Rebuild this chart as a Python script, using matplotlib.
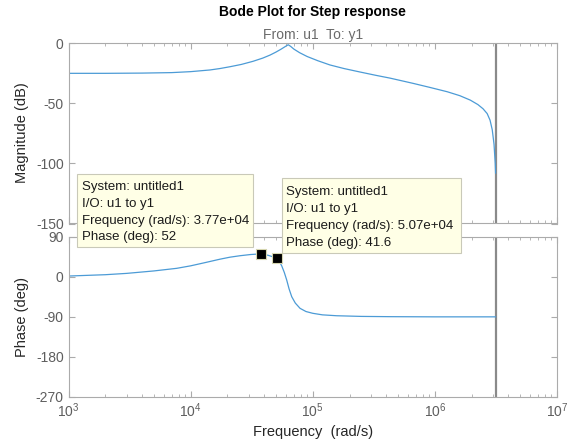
import numpy as np
import matplotlib
matplotlib.use('Agg')
import matplotlib.pyplot as plt
from matplotlib.patches import Rectangle
from matplotlib.ticker import LogLocator, NullFormatter

plt.rcParams['font.family'] = ['Liberation Sans', 'DejaVu Sans']
plt.rcParams['mathtext.default'] = 'regular'
plt.rcParams['axes.unicode_minus'] = False

# magnitude response (rad/s, dB)
mag_freq = [1.0e3, 2.0e3, 4.0e3, 7.0e3, 1.0e4, 1.44e4, 1.74e4, 2.1e4, 2.6e4,
            3.24e4, 3.9e4, 4.47e4, 5.0e4, 5.5e4, 6.0e4, 6.3e4, 6.6e4, 7.0e4,
            7.8e4, 9.0e4, 1.1e5, 1.38e5, 1.8e5, 2.44e5, 3.3e5, 4.3e5, 6.6e5,
            9.0e5, 1.26e6, 1.6e6, 1.95e6, 2.25e6, 2.48e6, 2.68e6, 2.83e6,
            2.95e6, 3.05e6, 3.12e6, 3.14e6]
mag_db = [-25.0, -25.0, -24.8, -24.4, -23.6, -22.2, -21.0, -19.5, -17.6,
          -15.0, -12.3, -9.8, -7.3, -4.9, -2.5, -1.2, -2.6, -4.8,
          -7.8, -11.0, -14.5, -18.0, -21.0, -23.9, -26.7, -29.0, -33.3,
          -36.6, -40.3, -43.6, -47.3, -51.0, -54.5, -58.5, -64.0,
          -72.0, -84.0, -100.0, -108.0]

# phase response (rad/s, deg)
phase_freq = [1.0e3, 2.0e3, 3.0e3, 5.0e3, 7.7e3, 1.0e4, 1.3e4, 1.74e4, 2.1e4,
              2.54e4, 3.1e4, 3.77e4, 4.3e4, 4.7e4, 5.07e4, 5.35e4, 5.57e4,
              5.85e4, 6.12e4, 6.4e4, 6.73e4, 7.2e4, 7.87e4, 8.8e4, 1.0e5,
              1.2e5, 1.57e5, 2.5e5, 4.3e5, 1.0e6, 3.14e6]
phase_deg = [2.0, 5.0, 8.0, 13.5, 19.4, 25.0, 32.0, 40.0, 44.5,
             47.8, 50.5, 52.0, 48.8, 45.5, 41.6, 34.0, 25.0,
             10.0, -7.0, -27.0, -44.7, -59.0, -70.8, -78.0, -82.0,
             -85.5, -87.5, -89.0, -89.6, -90.0, -90.0]

nyquist = 3.14e6

# data tips
tip_freq = [3.77e4, 5.07e4]
tip_phase = [52, 41.6]
tip_freq_txt = ['3.77e+04', '5.07e+04']
tip_phase_txt = ['52', '41.6']

W, H = 568, 444
fig = plt.figure(figsize=(W / 100, H / 100), dpi=100)


def px_axes(x0, y0, x1, y1):
    return fig.add_axes([x0 / W, 1 - y1 / H, (x1 - x0) / W, (y1 - y0) / H])


ax_mag = px_axes(68.5, 43.3, 557, 223.5)
ax_ph = px_axes(68.5, 237, 557, 396.7)

line_c = '#4c9bd6'
axis_c = '#ababab'
tick_c = '#5e5e5e'

for ax in (ax_mag, ax_ph):
    ax.set_xscale('log')
    ax.set_xlim(1e3, 1e7)
    for s in ax.spines.values():
        s.set_color(axis_c)
        s.set_linewidth(0.8)
    ax.tick_params(which='both', direction='in', top=True, right=True,
                   color=axis_c, labelcolor=tick_c, labelsize=10)
    ax.tick_params(which='major', length=4.5, width=0.8)
    ax.tick_params(which='minor', length=2.5, width=0.6)
    ax.xaxis.set_major_locator(LogLocator(base=10, numticks=10))
    ax.xaxis.set_minor_locator(LogLocator(base=10, subs=np.arange(2, 10), numticks=40))
    ax.xaxis.set_minor_formatter(NullFormatter())
    ax.axvline(nyquist, color='#8a8a8a', lw=1.6, zorder=1)

ax_mag.plot(mag_freq, mag_db, color=line_c, lw=0.9, zorder=2)
ax_mag.set_ylim(-150, 0)
ax_mag.set_yticks([0, -50, -100, -150])
ax_mag.tick_params(labelbottom=False)

ax_ph.plot(phase_freq, phase_deg, color=line_c, lw=0.9, zorder=2)
ax_ph.set_ylim(-270, 90)
ax_ph.set_yticks([90, 0, -90, -180, -270])
ax_ph.plot(tip_freq, tip_phase, 's', ms=6.5, mfc='black', mec='#d6d6b0',
           mew=0.8, zorder=6, clip_on=False)

fig.text(312 / W, 1 - 12 / H, 'Bode Plot for Step response', ha='center',
         va='center', fontsize=10, fontweight='bold')
fig.text(312.7 / W, 1 - 35.5 / H, 'From: u1  To: y1', ha='center', va='center',
         fontsize=10, color='#6a6a6a')
fig.text(22 / W, 1 - 133 / H, 'Magnitude (dB)', rotation=90, ha='center',
         va='center', fontsize=10.5, color='#262626')
fig.text(22 / W, 1 - 317 / H, 'Phase (deg)', rotation=90, ha='center',
         va='center', fontsize=10.5, color='#262626')
fig.text(312.7 / W, 1 - 432 / H, 'Frequency  (rad/s)', ha='center', va='center',
         fontsize=10.5, color='#262626')


def draw_tip(x0, y0, x1, y1, tx, ty, freq_txt, phase_txt):
    box = Rectangle((x0 / W, 1 - y1 / H), (x1 - x0) / W, (y1 - y0) / H,
                    transform=fig.transFigure, facecolor='#ffffe6',
                    edgecolor='#c9c9b8', lw=0.8, zorder=5)
    fig.add_artist(box)
    lines = ['System: untitled1', 'I/O: u1 to y1',
             'Frequency (rad/s): ' + freq_txt, 'Phase (deg): ' + phase_txt]
    for i, s in enumerate(lines):
        t = fig.text(tx / W, 1 - (ty + i * 16.9) / H, s, ha='left', va='center',
                     fontsize=9.5, color='#1a1a1a')
        t.set_zorder(6)


draw_tip(77.3, 174, 253.3, 247.3, 82, 186.7, tip_freq_txt[0], tip_phase_txt[0])
draw_tip(282, 178.5, 460.5, 253, 286.3, 192, tip_freq_txt[1], tip_phase_txt[1])

fig.savefig('out.png', dpi=100)
